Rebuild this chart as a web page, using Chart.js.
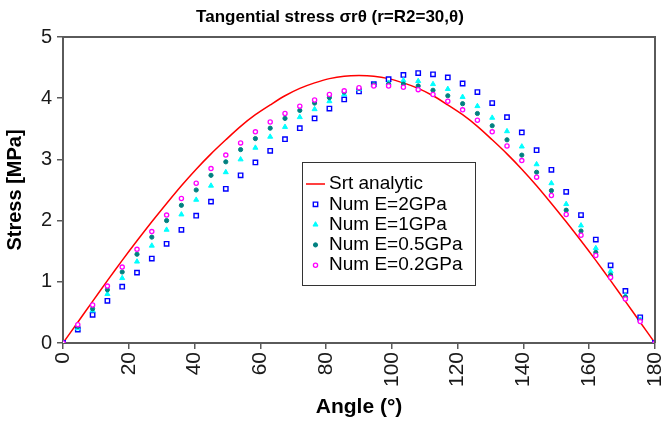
<!DOCTYPE html>
<html>
<head>
<meta charset="utf-8">
<script src="https://cdn.jsdelivr.net/npm/chart.js@4.4.1/dist/chart.umd.min.js"></script>
<style>
  html, body { margin: 0; padding: 0; background: #fff; }
  canvas { display: block; }
</style>
</head>
<body>
<canvas id="stressChart" width="662" height="425"></canvas>
<script>
// angle positions (deg), 4.5 deg step
const angles = [
  0, 4.5, 9, 13.5, 18, 22.5, 27, 31.5, 36, 40.5, 45, 49.5, 54, 58.5, 63, 67.5, 72, 76.5, 81, 85.5,
  90, 94.5, 99, 103.5, 108, 112.5, 117, 121.5, 126, 130.5, 135, 139.5, 144, 148.5, 153, 157.5,
  162, 166.5, 171, 175.5, 180
];

const srtAnalytic = [
  0, 0.34, 0.68, 1.02, 1.35, 1.67, 1.98, 2.28, 2.57, 2.84, 3.09, 3.32, 3.54, 3.73, 3.89, 4.04, 4.16, 4.25, 4.32, 4.36,
  4.37, 4.36, 4.32, 4.25, 4.16, 4.04, 3.89, 3.73, 3.54, 3.32, 3.09, 2.84, 2.57, 2.28, 1.98, 1.67,
  1.35, 1.02, 0.68, 0.34, 0
];

const numE2 = [
  0, 0.22, 0.46, 0.69, 0.92, 1.15, 1.38, 1.62, 1.85, 2.08, 2.31, 2.52, 2.74, 2.95, 3.14, 3.33, 3.51, 3.67, 3.83, 3.98,
  4.11, 4.23, 4.31, 4.38, 4.41, 4.39, 4.34, 4.24, 4.10, 3.92, 3.69, 3.44, 3.15, 2.83, 2.47, 2.09,
  1.69, 1.27, 0.85, 0.42, 0
];

const numE1 = [
  0, 0.24, 0.53, 0.80, 1.06, 1.33, 1.59, 1.85, 2.10, 2.34, 2.57, 2.79, 3.00, 3.19, 3.37, 3.53, 3.69, 3.82, 3.95, 4.06,
  4.15, 4.22, 4.25, 4.29, 4.28, 4.23, 4.15, 4.02, 3.87, 3.68, 3.46, 3.21, 2.92, 2.61, 2.27, 1.92,
  1.55, 1.17, 0.77, 0.38, 0
];

const numE05 = [
  0, 0.27, 0.56, 0.87, 1.16, 1.45, 1.73, 2.00, 2.25, 2.50, 2.74, 2.96, 3.16, 3.34, 3.51, 3.67, 3.80, 3.92, 4.01, 4.10,
  4.16, 4.22, 4.23, 4.23, 4.20, 4.13, 4.04, 3.91, 3.75, 3.55, 3.32, 3.07, 2.79, 2.49, 2.17, 1.83,
  1.48, 1.11, 0.75, 0.36, 0
];

const numE02 = [
  0, 0.30, 0.62, 0.93, 1.24, 1.53, 1.82, 2.09, 2.36, 2.61, 2.85, 3.07, 3.27, 3.45, 3.61, 3.75, 3.87, 3.97, 4.06, 4.12,
  4.17, 4.20, 4.20, 4.18, 4.14, 4.06, 3.95, 3.81, 3.64, 3.45, 3.22, 2.98, 2.71, 2.41, 2.10, 1.76,
  1.43, 1.07, 0.72, 0.35, 0
];

const xTicks = [0, 20, 40, 60, 80, 100, 120, 140, 160, 180];
const yTicks = [0, 1, 2, 3, 4, 5];

const FONT = "'Liberation Sans', Arial, sans-serif";
const AXIS = "#5a5a5a";
const TEXT = "#1a1a1a";

function pts(values) {
  return angles.map((a, i) => ({ x: a, y: values[i] }));
}

const seriesStyles = [
  { label: "Num E=2GPa", data: numE2, shape: "rect", r: 3.1, fill: "#ffffff", stroke: "#0000ff", bw: 1.4 },
  { label: "Num E=1GPa", data: numE1, shape: "triangle", r: 2.9, fill: "#00ffff", stroke: "#00ffff", bw: 1 },
  { label: "Num E=0.5GPa", data: numE05, shape: "circle", r: 2.1, fill: "#008080", stroke: "#008080", bw: 1 },
  { label: "Num E=0.2GPa", data: numE02, shape: "circle", r: 2.1, fill: "#ffffff", stroke: "#ff00ff", bw: 1.3 },
];

const datasets = [
  {
    label: "Srt analytic",
    data: pts(srtAnalytic),
    showLine: true,
    borderColor: "#ff0000",
    borderWidth: 1.5,
    pointRadius: 0,
    tension: 0.3,
    order: 10,
  },
  ...seriesStyles.map((s, i) => ({
    label: s.label,
    data: pts(s.data),
    showLine: false,
    pointStyle: s.shape,
    pointRadius: s.r,
    backgroundColor: s.fill,
    borderColor: s.stroke,
    borderWidth: s.bw,
    order: 5 - i,
  })),
];

function drawMarker(ctx, s, x, y) {
  ctx.fillStyle = s.fill;
  ctx.strokeStyle = s.stroke;
  ctx.lineWidth = s.bw;
  ctx.beginPath();
  if (s.shape === "rect") {
    const h = Math.SQRT1_2 * s.r;
    ctx.rect(x - h, y - h, 2 * h, 2 * h);
  } else if (s.shape === "triangle") {
    const r = s.r;
    ctx.moveTo(x, y - r);
    ctx.lineTo(x + r * 0.866, y + r / 2);
    ctx.lineTo(x - r * 0.866, y + r / 2);
    ctx.closePath();
  } else {
    ctx.arc(x, y, s.r, 0, Math.PI * 2);
  }
  ctx.fill();
  ctx.stroke();
}

// frame, title and legend box drawn on top
const extras = {
  id: "extras",
  afterDraw(chart) {
    const { ctx, chartArea: a } = chart;
    ctx.save();

    ctx.strokeStyle = AXIS;
    ctx.lineWidth = 2;
    ctx.beginPath();
    ctx.moveTo(a.left, a.top);
    ctx.lineTo(a.right, a.top);
    ctx.lineTo(a.right, a.bottom);
    ctx.stroke();

    ctx.fillStyle = "#000";
    ctx.font = "bold 17px " + FONT;
    ctx.textAlign = "center";
    ctx.textBaseline = "middle";
    ctx.fillText("Tangential stress σrθ (r=R2=30,θ)", 330, 17);

    // legend
    const lx = 302.5, ly = 162.5, lw = 173, lh = 123;
    ctx.fillStyle = "#fff";
    ctx.fillRect(lx, ly, lw, lh);
    ctx.strokeStyle = "#333";
    ctx.lineWidth = 1;
    ctx.strokeRect(lx, ly, lw, lh);

    const rowY = 184, step = 20.3;
    ctx.strokeStyle = "#ff0000";
    ctx.lineWidth = 1.5;
    ctx.beginPath();
    ctx.moveTo(306, rowY);
    ctx.lineTo(325, rowY);
    ctx.stroke();

    seriesStyles.forEach((s, i) => drawMarker(ctx, s, 315.5, rowY + step * (i + 1)));

    ctx.fillStyle = "#000";
    ctx.font = "19px " + FONT;
    ctx.textAlign = "left";
    ctx.textBaseline = "middle";
    ctx.fillText("Srt analytic", 329, rowY);
    seriesStyles.forEach((s, i) => ctx.fillText(s.label, 329, rowY + step * (i + 1)));

    ctx.restore();
  },
};

const canvas = document.getElementById("stressChart");

new Chart(canvas, {
  type: "scatter",
  data: { datasets },
  options: {
    responsive: false,
    animation: false,
    layout: { padding: { top: 37, right: 7, left: 0, bottom: 0 } },
    plugins: {
      legend: { display: false },
      tooltip: { enabled: false },
      title: { display: false },
    },
    scales: {
      x: {
        type: "linear",
        min: 0,
        max: 180,
        afterBuildTicks: (s) => { s.ticks = xTicks.map((v) => ({ value: v })); },
        afterFit: (s) => { s.height = 82; s.paddingLeft = 0; s.paddingRight = 0; },
        ticks: {
          minRotation: 90,
          maxRotation: 90,
          padding: 3,
          color: TEXT,
          font: { size: 21, family: FONT },
        },
        grid: { drawOnChartArea: false, tickLength: 6, color: AXIS, lineWidth: 1.5 },
        border: { color: AXIS, width: 2 },
        title: {
          display: true,
          text: "Angle (°)",
          color: "#000",
          font: { size: 21, weight: "bold", family: FONT },
          padding: { top: 0, bottom: 5 },
        },
      },
      y: {
        type: "linear",
        min: 0,
        max: 5,
        afterBuildTicks: (s) => { s.ticks = yTicks.map((v) => ({ value: v })); },
        afterFit: (s) => { s.width = 63; s.paddingTop = 0; s.paddingBottom = 0; },
        ticks: {
          padding: 5,
          color: TEXT,
          font: { size: 20, family: FONT },
        },
        grid: { drawOnChartArea: false, tickLength: 6, color: AXIS, lineWidth: 1.5 },
        border: { color: AXIS, width: 2 },
        title: {
          display: true,
          text: "Stress [MPa]",
          color: "#000",
          font: { size: 20, weight: "bold", family: FONT },
          padding: { top: 3, bottom: 0 },
        },
      },
    },
  },
  plugins: [extras],
});
</script>
</body>
</html>
